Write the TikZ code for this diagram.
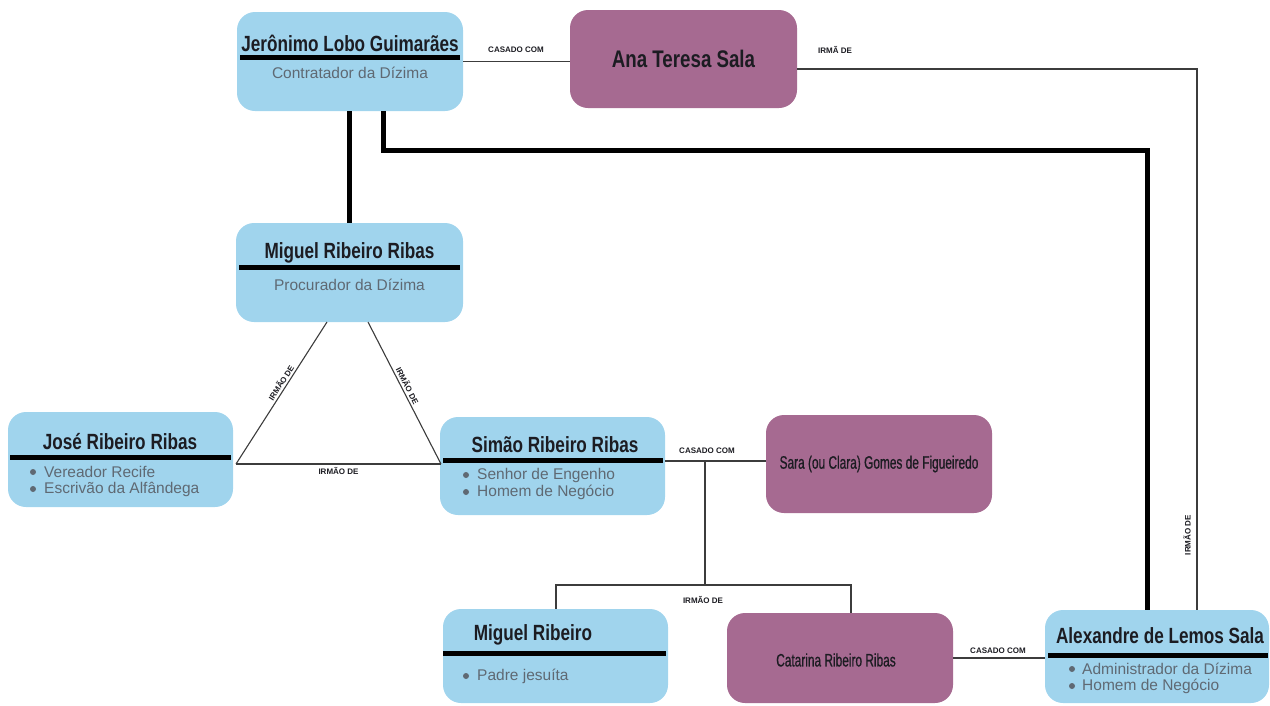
\documentclass[tikz,border=0pt]{standalone}
\usepackage{fontspec}
\setmainfont{Liberation Sans}
\newfontfamily\narrowfont{Liberation Sans}[FakeStretch=0.78]
\newfontfamily\tallfont{Liberation Sans}[FakeStretch=0.66,FakeBold=0.7]
\usetikzlibrary{calc}

\definecolor{boxblue}{RGB}{160,212,237}
\definecolor{boxplum}{RGB}{166,106,145}
\definecolor{subgray}{RGB}{95,105,115}
\definecolor{namecol}{RGB}{28,28,34}
\definecolor{linegray}{RGB}{60,60,60}

\tikzset{
  bluebox/.style={rectangle, rounded corners=18pt, fill=boxblue, inner sep=0pt},
  plumbox/.style={bluebox, fill=boxplum},
  nametext/.style={font=\narrowfont\bfseries\fontsize{22}{26}\selectfont, text=namecol, inner sep=0pt},
  wifetext/.style={font=\tallfont\fontsize{18}{20}\selectfont, text=namecol, inner sep=0pt},
  roletext/.style={font=\fontsize{15.5}{18}\selectfont, text=subgray, inner sep=0pt},
  itemtext/.style={roletext, anchor=west},
  itemdot/.style={fill=subgray},
  rellabel/.style={font=\bfseries\fontsize{8}{9}\selectfont, text=namecol, inner sep=2pt},
  headbar/.style={line width=5pt, black},
  kinline/.style={line width=1.1pt, linegray},
  bloodline/.style={line width=5pt, black},
}

\begin{document}
\begin{tikzpicture}[x=1pt, y=-1pt]
\useasboundingbox (0,0) rectangle (1270,705);

%boxes (blue = office holders, plum = wives / sisters)
\node[bluebox, minimum width=226, minimum height=99] (jlg) at (350,61.5) {};		%top left
\node[plumbox, minimum width=227, minimum height=98] (ats) at (683.5,59) {};		%top middle
\node[bluebox, minimum width=227, minimum height=99] (mrr) at (349.5,272.5) {};
\node[bluebox, minimum width=225, minimum height=95] (jrr) at (120.5,459.5) {};		%left
\node[bluebox, minimum width=225, minimum height=98] (srr) at (552.5,466) {};
\node[plumbox, minimum width=226, minimum height=98] (sgf) at (879,464) {};
\node[bluebox, minimum width=225, minimum height=94] (mr)  at (555.5,656) {};		%bottom row
\node[plumbox, minimum width=226, minimum height=90] (cat) at (840,658) {};
\node[bluebox, minimum width=224, minimum height=93] (als) at (1157,656.5) {};		%bottom right

%joints of the connectors
\coordinate (triL) at (327,322);
\coordinate (triR) at (368,322);
\coordinate (triJ) at (236,464);
\coordinate (triS) at (441,464);
\coordinate (casS) at (705,461);
\coordinate (sibJ) at (705,585);

%thick lines
\draw[bloodline] (jlg.south -| 349,0) -- (mrr.north -| 349,0);
\draw[bloodline] (jlg.south -| 383,0) |- (1147,150) -- (als.north -| 1147,0);

%thin lines
\draw[kinline] (jlg.east) -- (jlg.east -| ats.west);
\draw[kinline] (ats.east |- 0,69) -| (als.north -| 1197,0);
\draw[kinline] (triJ) -- node[rellabel, sloped, above, pos=0.55] (lblL) {IRMÃO DE} (triL);
\draw[kinline] (triR) -- node[rellabel, sloped, above, pos=0.47] (lblR) {IRMÃO DE} (triS);
\draw[kinline] (triJ) -- node[rellabel, below=1pt, pos=0.5] (lblB) {IRMÃO DE} (triS);
\draw[kinline] (srr.east |- casS) -- (sgf.west |- casS);
\draw[kinline] (casS) -- (sibJ);
\draw[kinline] (mr.north -| 556,0) |- (851,585) -- (cat.north -| 851,0);
\draw[kinline] (cat.east) -- (cat.east -| als.west);

%relation labels
\node[rellabel] (lblJA) at (516,50) {CASADO COM};
\node[rellabel] (lblAT) at (835,50) {IRMÃ DE};
\node[rellabel, rotate=90] (lblAL) at (1187,535) {IRMÃO DE};
\node[rellabel] (lblSS) at (707,451) {CASADO COM};
\node[rellabel] (lblMC) at (703,600) {IRMÃO DE};
\node[rellabel] (lblCA) at (998,651) {CASADO COM};

%Jeronimo
\node[nametext] (jlgN) at (350,43) {Jerônimo Lobo Guimarães};
\draw[headbar] (240,57) -- (460,57);
\node[roletext] (jlgR) at (350,73) {Contratador da Dízima};

%Ana Teresa
\node[nametext, font=\narrowfont\bfseries\fontsize{24}{28}\selectfont] (atsN) at (ats.center) {Ana Teresa Sala};

%Miguel Ribeiro Ribas
\node[nametext] (mrrN) at (349.5,253) {Miguel Ribeiro Ribas};
\draw[headbar] (239,267) -- (460,267);
\node[roletext] (mrrR) at (349.5,285) {Procurador da Dízima};

%Jose
\node[nametext] (jrrN) at (120,442) {José Ribeiro Ribas};
\draw[headbar] (10,457) -- (231,457);
\fill[itemdot] (33,472) circle (3);
\fill[itemdot] (33,489) circle (3);
\node[itemtext] (jrrA) at (44,472) {Vereador Recife};
\node[itemtext] (jrrB) at (44,489) {Escrivão da Alfândega};

%Simao
\node[nametext] (srrN) at (555,445) {Simão Ribeiro Ribas};
\draw[headbar] (443,460) -- (663,460);
\fill[itemdot] (466,475) circle (3);
\fill[itemdot] (466,492) circle (3);
\node[itemtext] (srrA) at (477,475) {Senhor de Engenho};
\node[itemtext] (srrB) at (477,492) {Homem de Negócio};

%Sara
\node[wifetext] (sgfN) at (sgf.center) {Sara (ou Clara) Gomes de Figueiredo};

%Miguel Ribeiro
\node[nametext] (mrN) at (533,635) {Miguel Ribeiro};
\draw[headbar] (443,653) -- (666,653);
\fill[itemdot] (466,676) circle (3);
\node[itemtext] (mrA) at (477,676) {Padre jesuíta};

%Catarina
\node[wifetext] (catN) at (836,660) {Catarina Ribeiro Ribas};

%Alexandre
\node[nametext] (alsN) at (1160,636) {Alexandre de Lemos Sala};
\draw[headbar] (1048,655) -- (1268,655);
\fill[itemdot] (1072,669) circle (3);
\fill[itemdot] (1072,686) circle (3);
\node[itemtext] (alsA) at (1082,669) {Administrador da Dízima};
\node[itemtext] (alsB) at (1082,686) {Homem de Negócio};

\end{tikzpicture}
\end{document}
